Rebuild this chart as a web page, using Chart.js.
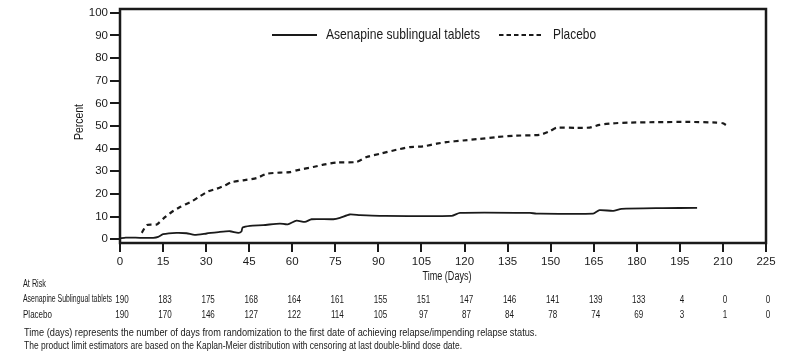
<!DOCTYPE html>
<html>
<head>
<meta charset="utf-8">
<script src="https://cdn.jsdelivr.net/npm/chart.js@4.4.1/dist/chart.umd.min.js"></script>
<style>
  html, body { margin: 0; padding: 0; background: #fff; }
  #wrap { width: 802px; height: 360px; position: relative; }
</style>
</head>
<body>
<div id="wrap"><canvas id="c" width="802" height="360"></canvas></div>
<script>
// ---- Data ----
const asenDays = [0, 2, 7, 11.6, 13.3, 15, 19.7, 23.2, 26, 30.2, 34.8, 38.3, 41.2, 42.3, 42.7, 45.3, 49.9, 55.7, 58.4, 61.5, 64.4, 66.7, 74.3, 76.6, 80, 83.6, 90.5, 115.5, 118.4, 142.8, 145, 164.8, 167, 171.8, 174.7, 189, 201];
const asenPct  = [0.3, 0.7, 0.6, 0.6, 1.0, 2.2, 2.8, 2.6, 1.9, 2.5, 3.2, 3.5, 2.8, 3.4, 5.1, 5.9, 6.2, 6.9, 6.5, 8.2, 7.6, 8.8, 8.8, 9.4, 10.9, 10.6, 10.3, 10.3, 11.6, 11.6, 11.3, 11.3, 12.8, 12.5, 13.4, 13.7, 13.8];

const placeboDays = [7.6, 9.3, 12.8, 15.1, 18, 20.9, 25, 27.9, 30.7, 33.7, 36.6, 38.9, 42.9, 47.6, 51.1, 55.7, 59.2, 61.5, 67.3, 70.8, 75.4, 82.4, 85.9, 90.5, 96.3, 101, 105.6, 110.3, 113.7, 119.5, 125.3, 131.2, 137, 146.2, 149.7, 152, 159, 163.6, 167, 171.8, 177.6, 186.9, 198.5, 207.8, 210, 211.8];
const placeboPct  = [2.8, 6.2, 6.5, 9.1, 12, 14.2, 16.7, 19, 21.1, 22.3, 23.8, 25.2, 26, 27, 28.9, 29.4, 29.6, 30.4, 31.9, 32.9, 33.9, 34.1, 36.3, 37.7, 39.5, 40.7, 41, 42.2, 42.9, 43.6, 44.3, 45.1, 45.7, 46.1, 47.7, 49.2, 49.2, 49.3, 50.5, 51.2, 51.5, 51.7, 51.8, 51.5, 51.2, 49.8];

const xTicks = [0, 15, 30, 45, 60, 75, 90, 105, 120, 135, 150, 165, 180, 195, 210, 225];
const yTicks = [0, 10, 20, 30, 40, 50, 60, 70, 80, 90, 100];

const riskDays    = [0, 15, 30, 45, 60, 75, 90, 105, 120, 135, 150, 165, 180, 195, 210, 225];
const asenRisk    = [190, 183, 175, 168, 164, 161, 155, 151, 147, 146, 141, 139, 133, 4, 0, 0];
const placeboRisk = [190, 170, 146, 127, 122, 114, 105, 97, 87, 84, 78, 74, 69, 3, 1, 0];

const seriesNames = ["Asenapine sublingual tablets", "Placebo"];
const riskRowNames = ["Asenapine Sublingual tablets", "Placebo"];
const riskTitle = "At Risk";
const xTitle = "Time (Days)";
const yTitle = "Percent";
const footnotes = [
  "Time (days) represents the number of days from randomization to the first date of achieving relapse/impending relapse status.",
  "The product limit estimators are based on the Kaplan-Meier distribution with censoring at last double-blind dose date."
];

// ---- Styling helpers ----
const INK = '#1a1a1a';
const BASEFONT = '"Liberation Sans", Arial, sans-serif';

function fitText(ctx, s, x, y, size, targetW, align) {
  ctx.save();
  ctx.font = size + 'px ' + BASEFONT;
  const w = ctx.measureText(s).width;
  const sx = targetW / w;
  ctx.translate(x, y);
  ctx.scale(sx, 1);
  ctx.textBaseline = 'middle';
  ctx.textAlign = 'left';
  let ox = 0;
  if (align === 'center') ox = -w / 2;
  else if (align === 'right') ox = -w;
  ctx.fillText(s, ox, 0);
  ctx.restore();
}
function condText(ctx, s, x, y, size, sx, align) {
  ctx.save();
  ctx.font = size + 'px ' + BASEFONT;
  const w = ctx.measureText(s).width;
  ctx.translate(x, y);
  ctx.scale(sx, 1);
  ctx.textBaseline = 'middle';
  ctx.textAlign = 'left';
  let ox = 0;
  if (align === 'center') ox = -w / 2;
  else if (align === 'right') ox = -w;
  ctx.fillText(s, ox, 0);
  ctx.restore();
}

const decor = {
  id: 'decor',
  afterDraw(chart) {
    const ctx = chart.ctx;
    const a = chart.chartArea;
    const xs = chart.scales.x;
    ctx.save();
    // Box
    ctx.strokeStyle = INK;
    ctx.lineWidth = 2.5;
    ctx.strokeRect(a.left, a.top, a.right - a.left, a.bottom - a.top);

    ctx.fillStyle = INK;
    // Legend
    ctx.lineWidth = 1.8;
    ctx.beginPath(); ctx.moveTo(272, 35); ctx.lineTo(317, 35); ctx.stroke();
    fitText(ctx, seriesNames[0], 326, 35, 15, 154, 'left');
    ctx.setLineDash([4.5, 3]);
    ctx.lineWidth = 2;
    ctx.beginPath(); ctx.moveTo(499, 35); ctx.lineTo(544, 35); ctx.stroke();
    ctx.setLineDash([]);
    fitText(ctx, seriesNames[1], 553, 35, 15, 43, 'left');

    // Y title
    ctx.save();
    ctx.translate(80, 122);
    ctx.rotate(-Math.PI / 2);
    fitText(ctx, yTitle, 0, 0, 12, 36, 'center');
    ctx.restore();

    // X title
    fitText(ctx, xTitle, 447, 277, 12, 49, 'center');

    // At risk table
    fitText(ctx, riskTitle, 23, 284, 10, 23, 'left');
    fitText(ctx, riskRowNames[0], 23, 299, 10, 89, 'left');
    fitText(ctx, riskRowNames[1], 23, 315, 10, 29, 'left');
    for (let i = 0; i < riskDays.length; i++) {
      const px = xs.getPixelForValue(riskDays[i]);
      condText(ctx, String(asenRisk[i]), px + 2, 300, 11.5, 0.7, 'center');
      condText(ctx, String(placeboRisk[i]), px + 2, 315, 11.5, 0.7, 'center');
    }

    // Footnotes
    fitText(ctx, footnotes[0], 24, 333, 11.5, 513, 'left');
    fitText(ctx, footnotes[1], 24, 346, 11.5, 438, 'left');
    ctx.restore();
  }
};

new Chart(document.getElementById('c'), {
  type: 'line',
  data: {
    datasets: [
      {
        label: seriesNames[0],
        data: asenDays.map((d, i) => ({ x: d, y: asenPct[i] })),
        borderColor: INK,
        borderWidth: 1.8,
        pointRadius: 0,
        fill: false,
        tension: 0.2
      },
      {
        label: seriesNames[1],
        data: placeboDays.map((d, i) => ({ x: d, y: placeboPct[i] })),
        borderColor: INK,
        borderWidth: 2.2,
        borderDash: [5, 4],
        pointRadius: 0,
        fill: false,
        tension: 0.2
      }
    ]
  },
  options: {
    responsive: false,
    animation: false,
    events: [],
    layout: { padding: { left: 0, right: 36, top: 9, bottom: 0 } },
    plugins: { legend: { display: false }, tooltip: { enabled: false } },
    scales: {
      x: {
        type: 'linear',
        min: 0, max: 225,
        afterBuildTicks(scale) { scale.ticks = xTicks.map(v => ({ value: v })); },
        afterFit(scale) { scale.height = 117; },
        grid: { display: true, drawOnChartArea: false, drawTicks: true, tickLength: 9, lineWidth: 2, color: INK },
        border: { display: false },
        ticks: {
          color: INK, padding: 3, maxRotation: 0, autoSkip: false,
          font: { family: '"Liberation Sans Narrow", "Liberation Sans", Arial, sans-serif', size: 11.5 }
        }
      },
      y: {
        type: 'linear',
        min: -1.7, max: 101.7,
        afterBuildTicks(scale) { scale.ticks = yTicks.map(v => ({ value: v })); },
        afterFit(scale) { scale.width = 120; },
        grid: { display: true, drawOnChartArea: false, drawTicks: true, tickLength: 10, lineWidth: 2, color: INK },
        border: { display: false },
        ticks: {
          color: INK, padding: 2,
          font: { family: '"Liberation Sans Narrow", "Liberation Sans", Arial, sans-serif', size: 11.5 }
        }
      }
    }
  },
  plugins: [decor]
});
</script>
</body>
</html>
